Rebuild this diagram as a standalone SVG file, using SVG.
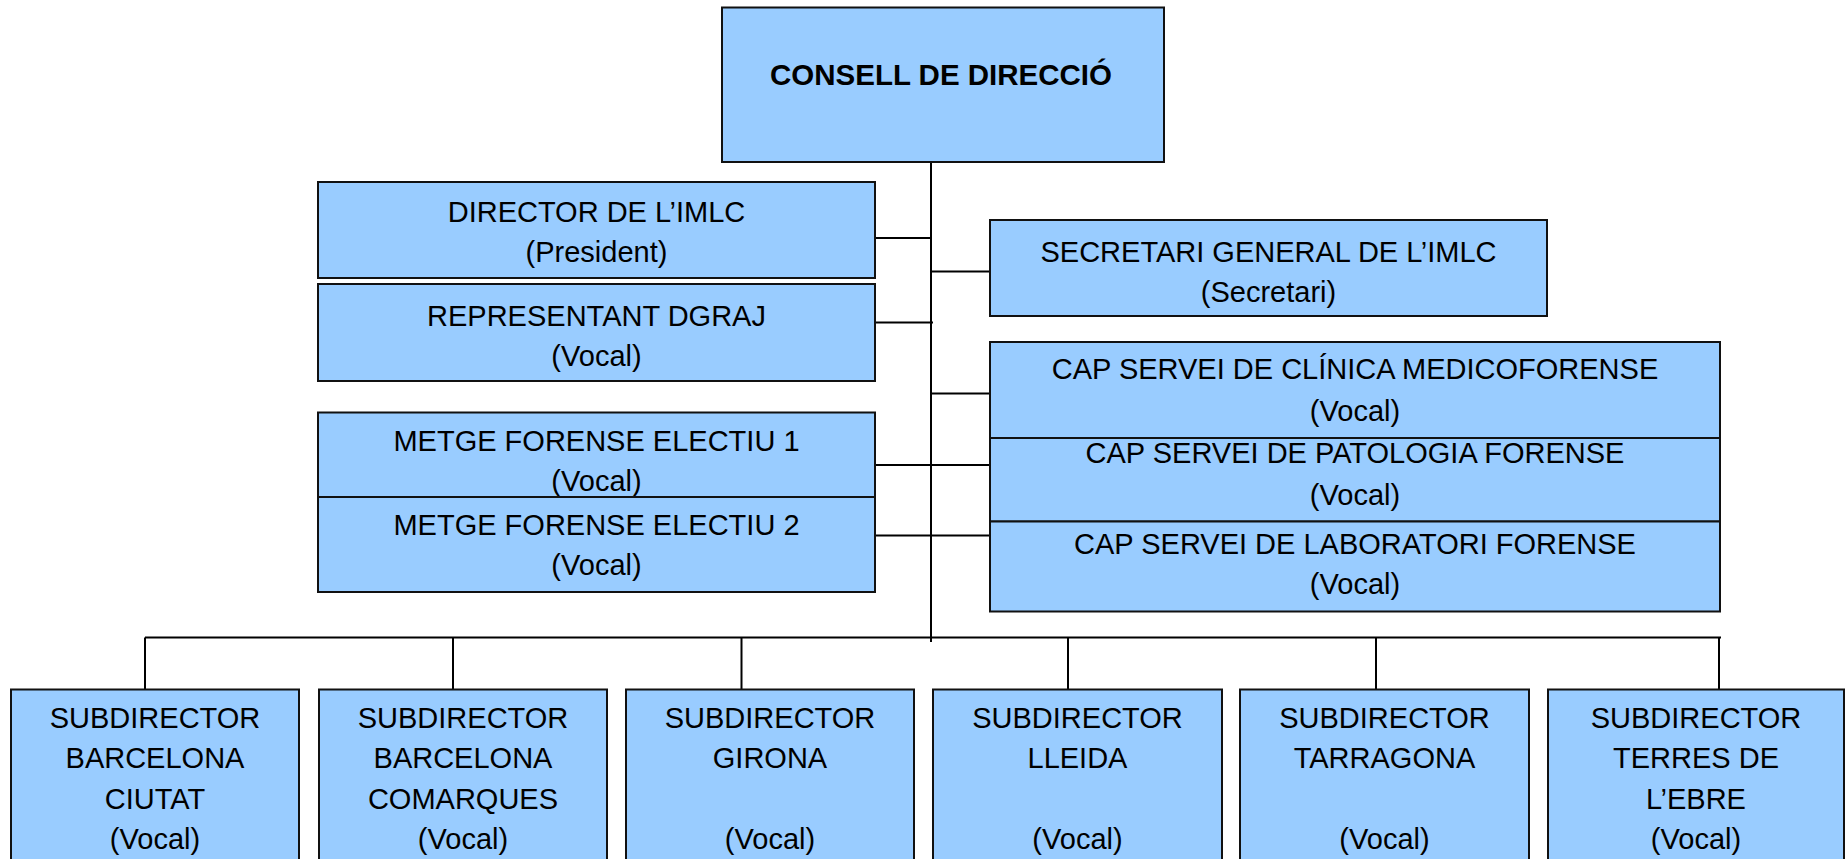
<svg xmlns="http://www.w3.org/2000/svg" width="1847" height="859" viewBox="0 0 1847 859">
<style>
.box{fill:#99CCFF;stroke:#111;stroke-width:2}
.t{font-family:"Liberation Sans",Arial,sans-serif;font-size:29px;fill:#000;text-anchor:middle}
.b{font-family:"Liberation Sans",Arial,sans-serif;font-size:29.5px;font-weight:bold;fill:#000;text-anchor:middle}
.c{stroke:#000;stroke-width:2;fill:none}
</style>
<rect width="1847" height="859" fill="#fff"/>
<g id="connectors">
<line class="c" x1="931" y1="162" x2="931" y2="642"/>
<line class="c" x1="874" y1="238" x2="931" y2="238"/>
<line class="c" x1="931" y1="271.5" x2="990" y2="271.5"/>
<line class="c" x1="875" y1="322.5" x2="933" y2="322.5"/>
<line class="c" x1="931" y1="393.5" x2="990" y2="393.5"/>
<line class="c" x1="875" y1="465" x2="990" y2="465"/>
<line class="c" x1="875" y1="535.5" x2="990" y2="535.5"/>
<line class="c" x1="145" y1="637.5" x2="1721" y2="637.5"/>
<line class="c" x1="145" y1="637.5" x2="145" y2="695"/>
<line class="c" x1="453" y1="637.5" x2="453" y2="695"/>
<line class="c" x1="741.5" y1="637.5" x2="741.5" y2="695"/>
<line class="c" x1="1068" y1="637.5" x2="1068" y2="695"/>
<line class="c" x1="1376" y1="637.5" x2="1376" y2="695"/>
<line class="c" x1="1719" y1="637.5" x2="1719" y2="700"/>
</g>
<g id="consell">
<rect class="box" x="722" y="7.5" width="442" height="154.5"/>
<text class="b" x="941" y="85">CONSELL DE DIRECCIÓ</text>
</g>
<g id="director">
<rect class="box" x="318" y="182" width="557" height="96"/>
<text class="t" x="596.5" y="222">DIRECTOR DE L’IMLC</text>
<text class="t" x="596.5" y="262">(President)</text>
</g>
<g id="representant">
<rect class="box" x="318" y="284" width="557" height="97"/>
<text class="t" x="596.5" y="326">REPRESENTANT DGRAJ</text>
<text class="t" x="596.5" y="366">(Vocal)</text>
</g>
<g id="metge1">
<rect class="box" x="318" y="412.5" width="557" height="84.5"/>
<text class="t" x="596.5" y="451">METGE FORENSE ELECTIU 1</text>
<text class="t" x="596.5" y="491">(Vocal)</text>
</g>
<g id="metge2">
<rect class="box" x="318" y="497" width="557" height="95"/>
<text class="t" x="596.5" y="535">METGE FORENSE ELECTIU 2</text>
<text class="t" x="596.5" y="575">(Vocal)</text>
</g>
<g id="secretari">
<rect class="box" x="990" y="220" width="557" height="96"/>
<text class="t" x="1268.5" y="262">SECRETARI GENERAL DE L’IMLC</text>
<text class="t" x="1268.5" y="302">(Secretari)</text>
</g>
<g id="clinica">
<rect class="box" x="990" y="342" width="730" height="96"/>
<text class="t" x="1355" y="379">CAP SERVEI DE CLÍNICA MEDICOFORENSE</text>
<text class="t" x="1355" y="421">(Vocal)</text>
</g>
<g id="patologia">
<rect class="box" x="990" y="438" width="730" height="83.5"/>
<text class="t" x="1355" y="463">CAP SERVEI DE PATOLOGIA FORENSE</text>
<text class="t" x="1355" y="505">(Vocal)</text>
</g>
<g id="laboratori">
<rect class="box" x="990" y="521.5" width="730" height="90"/>
<text class="t" x="1355" y="554">CAP SERVEI DE LABORATORI FORENSE</text>
<text class="t" x="1355" y="594">(Vocal)</text>
</g>
<g id="sub-bcn-ciutat">
<rect class="box" x="11" y="689.5" width="288" height="190"/>
<text class="t" x="155" y="728">SUBDIRECTOR</text>
<text class="t" x="155" y="768">BARCELONA</text>
<text class="t" x="155" y="809">CIUTAT</text>
<text class="t" x="155" y="849">(Vocal)</text>
</g>
<g id="sub-bcn-comarques">
<rect class="box" x="319" y="689.5" width="288" height="190"/>
<text class="t" x="463" y="728">SUBDIRECTOR</text>
<text class="t" x="463" y="768">BARCELONA</text>
<text class="t" x="463" y="809">COMARQUES</text>
<text class="t" x="463" y="849">(Vocal)</text>
</g>
<g id="sub-girona">
<rect class="box" x="626" y="689.5" width="288" height="190"/>
<text class="t" x="770" y="728">SUBDIRECTOR</text>
<text class="t" x="770" y="768">GIRONA</text>
<text class="t" x="770" y="849">(Vocal)</text>
</g>
<g id="sub-lleida">
<rect class="box" x="933" y="689.5" width="289" height="190"/>
<text class="t" x="1077.5" y="728">SUBDIRECTOR</text>
<text class="t" x="1077.5" y="768">LLEIDA</text>
<text class="t" x="1077.5" y="849">(Vocal)</text>
</g>
<g id="sub-tarragona">
<rect class="box" x="1240" y="689.5" width="289" height="190"/>
<text class="t" x="1384.5" y="728">SUBDIRECTOR</text>
<text class="t" x="1384.5" y="768">TARRAGONA</text>
<text class="t" x="1384.5" y="849">(Vocal)</text>
</g>
<g id="sub-terres-ebre">
<rect class="box" x="1548" y="689.5" width="296" height="190"/>
<text class="t" x="1696" y="728">SUBDIRECTOR</text>
<text class="t" x="1696" y="768">TERRES DE</text>
<text class="t" x="1696" y="809">L’EBRE</text>
<text class="t" x="1696" y="849">(Vocal)</text>
</g>
</svg>
